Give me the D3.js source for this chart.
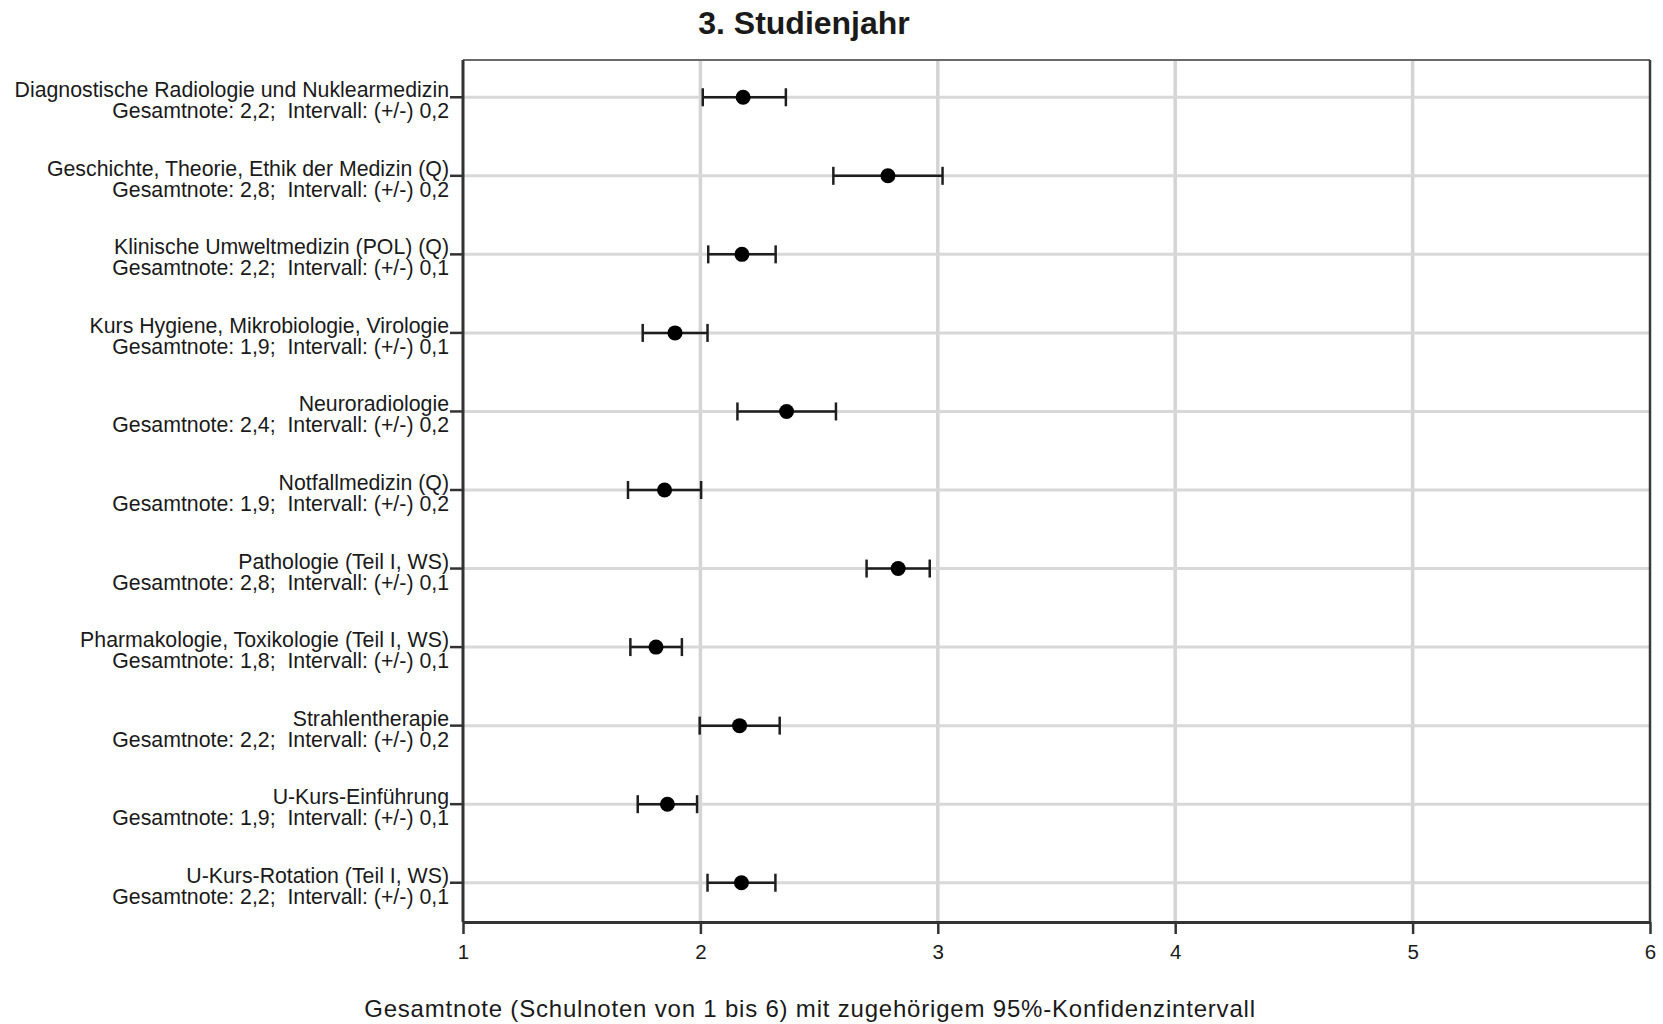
<!DOCTYPE html>
<html>
<head>
<meta charset="utf-8">
<script src="https://cdn.jsdelivr.net/npm/d3@7"></script>
<style>
  body { margin: 0; background: #fff; }
  text { font-family: "Liberation Sans", Arial, sans-serif; fill: #1a1a1a; }
</style>
</head>
<body>
<div id="chart"></div>
<script>
/* chart data */
const courses = [
  "Diagnostische Radiologie und Nuklearmedizin",
  "Geschichte, Theorie, Ethik der Medizin (Q)",
  "Klinische Umweltmedizin (POL) (Q)",
  "Kurs Hygiene, Mikrobiologie, Virologie",
  "Neuroradiologie",
  "Notfallmedizin (Q)",
  "Pathologie (Teil I, WS)",
  "Pharmakologie, Toxikologie (Teil I, WS)",
  "Strahlentherapie",
  "U-Kurs-Einführung",
  "U-Kurs-Rotation (Teil I, WS)"
];
const means   = [2.18, 2.79, 2.175, 1.893, 2.363, 1.849, 2.833, 1.813, 2.165, 1.861, 2.173];
const ciLow   = [2.01, 2.56, 2.033, 1.757, 2.156, 1.695, 2.70, 1.705, 1.997, 1.736, 2.03];
const ciHigh  = [2.36, 3.02, 2.317, 2.03, 2.571, 2.003, 2.966, 1.922, 2.334, 1.986, 2.316];
const noteText     = ["2,2", "2,8", "2,2", "1,9", "2,4", "1,9", "2,8", "1,8", "2,2", "1,9", "2,2"];
const intervalText = ["0,2", "0,2", "0,1", "0,1", "0,2", "0,2", "0,1", "0,1", "0,2", "0,1", "0,1"];
const xTicks = [1, 2, 3, 4, 5, 6];

const title = "3. Studienjahr";
const xTitle = "Gesamtnote (Schulnoten von 1 bis 6) mit zugehörigem 95%-Konfidenzintervall";

/* dimensions */
const W = 1663, H = 1024;
const plot = { left: 463, right: 1650, top: 60, bottom: 922 };

const svg = d3.select("#chart").append("svg")
    .attr("width", W).attr("height", H);

const data = courses.map((c, i) => ({
  course: c, mean: means[i], lo: ciLow[i], hi: ciHigh[i],
  note: noteText[i], iv: intervalText[i]
}));

/* scales */
const x = d3.scaleLinear().domain([1, 6]).range([plot.left, plot.right]);
const y = d3.scaleBand().domain(courses).range([58, 922]).padding(0);
const yc = d => y(d) + y.bandwidth() / 2;

/* vertical grid */
svg.append("g").selectAll("line")
  .data(xTicks.slice(1, -1))
  .enter().append("line")
    .attr("x1", d => x(d)).attr("x2", d => x(d))
    .attr("y1", plot.top).attr("y2", plot.bottom)
    .attr("stroke", "#d4d4d4").attr("stroke-width", 3.5);

/* horizontal grid per row */
svg.append("g").selectAll("line")
  .data(courses)
  .enter().append("line")
    .attr("x1", plot.left).attr("x2", plot.right)
    .attr("y1", d => yc(d)).attr("y2", d => yc(d))
    .attr("stroke", "#d8d8d8").attr("stroke-width", 3);

/* frame: lighter top edge, dark right edge */
svg.append("line")
  .attr("x1", plot.left).attr("x2", plot.right)
  .attr("y1", plot.top).attr("y2", plot.top)
  .attr("stroke", "#6a6a6a").attr("stroke-width", 2);
svg.append("line")
  .attr("x1", plot.right).attr("x2", plot.right)
  .attr("y1", plot.top).attr("y2", plot.bottom)
  .attr("stroke", "#3a3a3a").attr("stroke-width", 2.5);

/* bottom axis */
const gx = svg.append("g")
  .attr("transform", `translate(0,${plot.bottom})`)
  .call(d3.axisBottom(x).tickValues(xTicks).tickSize(12).tickSizeOuter(0)
          .tickPadding(10).tickFormat(d3.format("d")));
gx.select(".domain").attr("stroke", "#333").attr("stroke-width", 3);
gx.selectAll(".tick line").attr("stroke", "#333").attr("stroke-width", 2.5);
gx.selectAll(".tick text")
  .style("font-family", "'Liberation Sans', Arial, sans-serif")
  .style("font-size", "20.5px").attr("fill", "#1a1a1a");

/* left axis: ticks only, labels drawn below */
const gy = svg.append("g")
  .attr("transform", `translate(${plot.left},0)`)
  .call(d3.axisLeft(y).tickSize(13).tickSizeOuter(0).tickFormat(""));
gy.select(".domain").attr("stroke", "#333").attr("stroke-width", 3)
  .attr("d", `M0,${plot.top}V${plot.bottom}`);
gy.selectAll(".tick line").attr("stroke", "#333").attr("stroke-width", 2.5);

/* two-line row labels */
const labels = svg.append("g").selectAll("text")
  .data(data)
  .enter().append("text")
    .attr("text-anchor", "end")
    .style("font-size", "21.3px");
labels.append("tspan")
  .attr("x", plot.left - 14).attr("y", d => yc(d.course))
  .text(d => d.course);
labels.append("tspan")
  .attr("x", plot.left - 14).attr("y", d => yc(d.course) + 21)
  .style("white-space", "pre")
  .text(d => `Gesamtnote: ${d.note};  Intervall: (+/-) ${d.iv}`);

/* error bars */
const bars = svg.append("g").selectAll("g")
  .data(data)
  .enter().append("g");
bars.append("line")
  .attr("x1", d => x(d.lo)).attr("x2", d => x(d.hi))
  .attr("y1", d => yc(d.course)).attr("y2", d => yc(d.course))
  .attr("stroke", "#1e1e1e").attr("stroke-width", 2.5);
bars.append("line")
  .attr("x1", d => x(d.lo)).attr("x2", d => x(d.lo))
  .attr("y1", d => yc(d.course) - 9).attr("y2", d => yc(d.course) + 9)
  .attr("stroke", "#1e1e1e").attr("stroke-width", 2.5);
bars.append("line")
  .attr("x1", d => x(d.hi)).attr("x2", d => x(d.hi))
  .attr("y1", d => yc(d.course) - 9).attr("y2", d => yc(d.course) + 9)
  .attr("stroke", "#1e1e1e").attr("stroke-width", 2.5);
bars.append("circle")
  .attr("cx", d => x(d.mean)).attr("cy", d => yc(d.course))
  .attr("r", 7.5).attr("fill", "#000");

/* titles */
svg.append("text")
  .attr("x", 804).attr("y", 34)
  .attr("text-anchor", "middle")
  .style("font-size", "32px").style("font-weight", "bold")
  .attr("fill", "#000")
  .text(title);

svg.append("text")
  .attr("x", 810).attr("y", 1017)
  .attr("text-anchor", "middle")
  .style("font-size", "24px")
  .style("letter-spacing", "0.8px")
  .text(xTitle);
</script>
</body>
</html>
